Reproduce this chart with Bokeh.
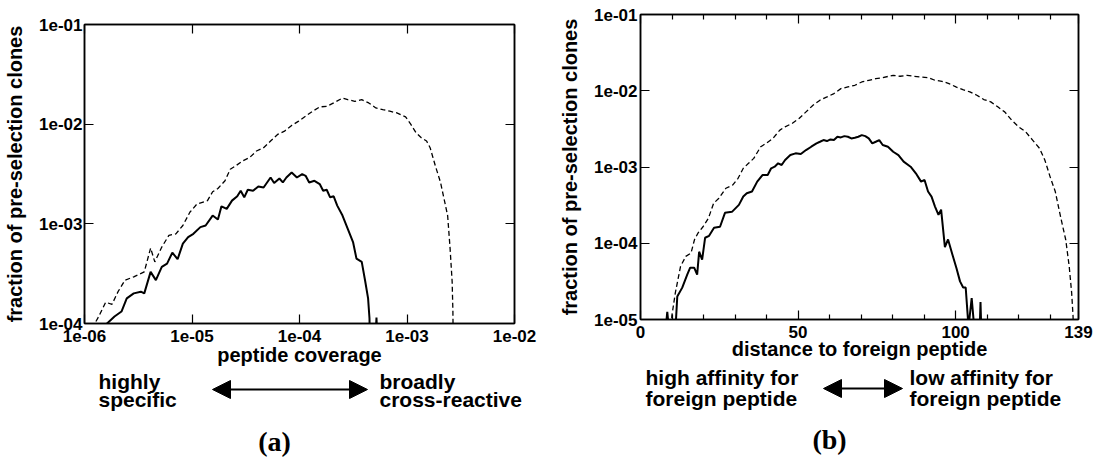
import numpy as np
from bokeh.plotting import figure
from bokeh.models import FixedTicker, LogAxis, LinearAxis, Label, Arrow, NormalHead, Range1d
from bokeh.layouts import row, column
from bokeh.embed import file_html
from bokeh.resources import INLINE

# ---------------- Panel (a): peptide coverage (log10 values)
a_dashed_log_cov = [-5.93, -5.868, -5.803, -5.744, -5.688, -5.623, -5.542, -5.444, -5.385, -5.346,
                    -5.281, -5.215, -5.150, -5.085, -5.020, -4.954, -4.856, -4.808, -4.759, -4.693,
                    -4.644, -4.595, -4.530, -4.465, -4.400, -4.334, -4.269, -4.204, -4.139, -4.073,
                    -4.008, -3.943, -3.878, -3.812, -3.747, -3.682, -3.600, -3.551, -3.486, -3.421,
                    -3.356, -3.290, -3.225, -3.160, -3.095, -3.013, -2.964, -2.916, -2.867, -2.818,
                    -2.785, -2.736, -2.688, -2.655, -2.622, -2.599, -2.580, -2.573, -2.570]
a_dashed_log_frac = [-4.05, -3.930, -3.787, -3.807, -3.681, -3.565, -3.532, -3.482, -3.243, -3.382,
                     -3.233, -3.116, -3.100, -3.017, -2.884, -2.801, -2.767, -2.678, -2.645, -2.568,
                     -2.452, -2.419, -2.369, -2.336, -2.269, -2.236, -2.169, -2.103, -2.070, -2.013,
                     -1.970, -1.920, -1.870, -1.827, -1.821, -1.787, -1.738, -1.754, -1.771, -1.754,
                     -1.787, -1.837, -1.854, -1.870, -1.887, -1.927, -2.003, -2.086, -2.136, -2.169,
                     -2.236, -2.419, -2.585, -2.751, -2.917, -3.249, -3.581, -3.880, -4.2]
a_solid_log_cov = [-5.84, -5.721, -5.656, -5.607, -5.542, -5.476, -5.444, -5.385, -5.336, -5.281,
                   -5.232, -5.183, -5.134, -5.085, -5.036, -4.987, -4.922, -4.873, -4.808, -4.759,
                   -4.726, -4.677, -4.628, -4.579, -4.547, -4.514, -4.481, -4.432, -4.383, -4.334,
                   -4.269, -4.236, -4.187, -4.155, -4.122, -4.073, -4.024, -3.975, -3.943, -3.910,
                   -3.861, -3.812, -3.780, -3.747, -3.715, -3.682, -3.649, -3.600, -3.551, -3.502,
                   -3.470, -3.421, -3.388, -3.362, -3.349, -3.345, -3.30, -3.284, -3.27]
a_solid_log_frac = [-4.05, -3.930, -3.880, -3.748, -3.698, -3.681, -3.698, -3.482, -3.565, -3.432,
                    -3.399, -3.289, -3.355, -3.199, -3.133, -3.100, -3.033, -3.017, -2.917, -2.957,
                    -2.824, -2.850, -2.767, -2.724, -2.668, -2.734, -2.658, -2.668, -2.625, -2.635,
                    -2.535, -2.591, -2.545, -2.585, -2.535, -2.485, -2.535, -2.502, -2.518, -2.585,
                    -2.568, -2.601, -2.668, -2.658, -2.734, -2.724, -2.817, -2.917, -3.050, -3.183,
                    -3.349, -3.382, -3.581, -3.748, -3.947, -4.2, -4.3, -3.94, -4.3]
a_xticks = [1e-6, 1e-5, 1e-4, 1e-3, 1e-2]
a_xtick_labels = ["1e-06", "1e-05", "1e-04", "1e-03", "1e-02"]
a_yticks = [1e-4, 1e-3, 1e-2, 1e-1]
a_ytick_labels = ["1e-04", "1e-03", "1e-02", "1e-01"]

# ---------------- Panel (b): distance to foreign peptide
b_dashed_dist = [9.6, 9.94, 11.05, 12.71, 14.37, 16.03, 17.13, 18.24, 19.90, 21.56, 23.22, 24.88,
                 27.09, 29.30, 30.96, 32.62, 34.28, 35.94, 38.15, 39.81, 42.02, 44.23, 45.89,
                 48.10, 50.32, 52.53, 54.74, 56.96, 59.17, 61.38, 63.59, 65.81, 68.02, 70.23,
                 72.44, 74.66, 76.87, 80.19, 82.40, 84.61, 86.83, 89.04, 91.25, 93.46, 95.67,
                 97.89, 100.10, 102.31, 104.52, 106.74, 108.95, 111.16, 113.37, 115.58, 117.80,
                 120.01, 122.22, 124.43, 126.65, 128.31, 129.97, 131.63, 133.29, 134.95, 136.05,
                 136.83, 137.27, 137.5]
b_dashed_log_frac = [-5.3, -4.956, -4.651, -4.303, -4.172, -4.129, -3.954, -3.867, -3.780, -3.671,
                     -3.475, -3.410, -3.279, -3.235, -3.148, -3.017, -2.952, -2.887, -2.734, -2.691,
                     -2.625, -2.516, -2.473, -2.429, -2.364, -2.277, -2.190, -2.124, -2.081, -2.037,
                     -1.972, -1.950, -1.928, -1.885, -1.863, -1.841, -1.828, -1.797, -1.810, -1.797,
                     -1.810, -1.819, -1.828, -1.863, -1.876, -1.906, -1.950, -1.985, -2.015, -2.059,
                     -2.115, -2.146, -2.211, -2.277, -2.386, -2.473, -2.538, -2.647, -2.756, -2.908,
                     -3.126, -3.322, -3.649, -3.954, -4.303, -4.651, -4.956, -5.3]
b_solid_dist = [7.8, 8.5, 9.2, 11.0, 11.67, 13.25, 14.83, 15.77, 17.03, 17.98, 18.61, 19.56, 20.50,
                21.77, 23.34, 25.24, 26.81, 29.02, 31.23, 32.62, 33.73, 35.38, 37.04, 38.70, 40.36,
                41.47, 42.58, 43.68, 44.79, 45.89, 47.55, 49.21, 50.87, 52.53, 54.19, 55.85, 56.96,
                58.06, 59.17, 60.28, 61.38, 62.49, 63.59, 64.70, 65.81, 66.91, 68.02, 69.12, 70.23,
                71.34, 72.44, 73.55, 74.66, 75.76, 76.87, 78.53, 80.19, 81.85, 83.51, 85.72, 87.38,
                89.04, 90.14, 91.25, 92.36, 93.46, 94.57, 95.4, 96.6, 97.6, 99.0, 100.3, 101.4,
                102.4, 103.2, 104.1, 105.1, 105.9, 107.6, 107.9, 108.2]
b_solid_log_frac = [-5.2, -4.9, -5.2, -5.2, -4.699, -4.582, -4.412, -4.320, -4.320, -4.412, -4.111,
                    -4.216, -3.928, -3.902, -3.797, -3.784, -3.601, -3.588, -3.497, -3.388, -3.344,
                    -3.322, -3.192, -3.105, -3.105, -3.017, -2.996, -2.952, -2.974, -2.908, -2.843,
                    -2.821, -2.830, -2.778, -2.734, -2.691, -2.669, -2.647, -2.660, -2.638, -2.647,
                    -2.603, -2.612, -2.595, -2.603, -2.625, -2.617, -2.603, -2.582, -2.595, -2.625,
                    -2.691, -2.669, -2.647, -2.712, -2.734, -2.800, -2.843, -2.930, -2.996, -3.083,
                    -3.192, -3.170, -3.322, -3.388, -3.519, -3.627, -3.56, -4.05, -3.95, -4.15,
                    -4.33, -4.50, -4.58, -4.58, -5.1, -4.72, -5.1, -5.2, -4.77, -5.2]
b_xticks = [0, 50, 100, 139]
b_xtick_labels = ["0", "50", "100", "139"]
b_xminor = [10, 20, 30, 40, 60, 70, 80, 90, 110, 120, 130]
b_yticks = [1e-5, 1e-4, 1e-3, 1e-2, 1e-1]
b_ytick_labels = ["1e-05", "1e-04", "1e-03", "1e-02", "1e-01"]

FONT = "Liberation Sans"
SERIF = "Liberation Serif"
TICK_SIZE = "17px"
LAB_SIZE = "20px"
NOTE_SIZE = "21px"


def style_axis(ax, ticks, labels=None, minor=None, tick_standoff=3, lab_standoff=5):
    ax.ticker = FixedTicker(ticks=ticks, minor_ticks=minor or [])
    ax.axis_line_color = "black"
    ax.axis_line_width = 1.5
    ax.major_tick_in = 9
    ax.major_tick_out = 0
    ax.major_tick_line_width = 1.2
    ax.minor_tick_in = 5 if minor else 0
    ax.minor_tick_out = 0
    ax.minor_tick_line_width = 1.2
    ax.major_label_standoff = tick_standoff
    if labels is None:
        ax.major_label_text_font_size = "1px"
        ax.major_label_text_alpha = 0
        ax.major_label_standoff = 0
    else:
        ax.major_label_overrides = {t: l for t, l in zip(ticks, labels)}
        ax.major_label_text_font = FONT
        ax.major_label_text_font_style = "bold"
        ax.major_label_text_font_size = TICK_SIZE
        ax.major_label_text_color = "black"
    ax.axis_label_text_font = FONT
    ax.axis_label_text_font_style = "bold"
    ax.axis_label_text_font_size = LAB_SIZE
    ax.axis_label_text_color = "black"
    ax.axis_label_standoff = lab_standoff


def base_figure(width, height, xr, yr, xtype, borders):
    l, r, t, b = borders
    p = figure(width=width, height=height, x_range=xr, y_range=yr,
               x_axis_type=xtype, y_axis_type="log",
               output_backend="svg", toolbar_location=None,
               min_border_left=l, min_border_right=r, min_border_top=t, min_border_bottom=b)
    p.grid.visible = False
    p.outline_line_color = "black"
    p.outline_line_width = 1.5
    p.background_fill_color = "white"
    p.border_fill_color = "white"
    return p


def note_figure(width, height):
    # blank strip below a panel; its frame spans the whole canvas, 1 unit = 1 px, y downward
    q = figure(width=width, height=height, x_range=Range1d(0, width), y_range=Range1d(height, 0),
               x_axis_location=None, y_axis_location=None,
               output_backend="svg", toolbar_location=None,
               min_border_left=0, min_border_right=0, min_border_top=0, min_border_bottom=0)
    q.grid.visible = False
    q.outline_line_color = None
    q.background_fill_color = "white"
    q.border_fill_color = "white"
    return q


def add_text(q, txt, x, y, size=NOTE_SIZE, font=FONT, align="left"):
    q.add_layout(Label(x=x, y=y, text=txt, text_font=font, text_font_size=size,
                       text_font_style="bold", text_align=align,
                       text_baseline="alphabetic", text_color="black"))


def add_arrow(q, x0, x1, y):
    q.add_layout(Arrow(x_start=x0, y_start=y, x_end=x1, y_end=y,
                       line_width=2, line_color="black",
                       start=NormalHead(size=18, fill_color="black", line_color="black"),
                       end=NormalHead(size=18, fill_color="black", line_color="black")))


# ---------------- figure (a)
pa = base_figure(547, 368, (1e-6, 1e-2), (1e-4, 1e-1), "log", (84, 33, 24, 43))
pa.line(10 ** np.array(a_dashed_log_cov), 10 ** np.array(a_dashed_log_frac),
        line_color="black", line_width=1.3, line_dash="5 3")
pa.line(10 ** np.array(a_solid_log_cov), 10 ** np.array(a_solid_log_frac),
        line_color="black", line_width=2)
style_axis(pa.xaxis[0], a_xticks, a_xtick_labels, tick_standoff=6, lab_standoff=-1)
pa.xaxis[0].axis_label = "peptide coverage"
style_axis(pa.yaxis[0], a_yticks, a_ytick_labels, tick_standoff=2, lab_standoff=10)
pa.yaxis[0].axis_label = "fraction of pre-selection clones"
ax_top = LogAxis()
style_axis(ax_top, a_xticks)
pa.add_layout(ax_top, "above")
ax_right = LogAxis()
style_axis(ax_right, a_yticks)
pa.add_layout(ax_right, "right")

na = note_figure(547, 89)
add_text(na, "highly", 98, 13)
add_text(na, "specific", 98, 31)
add_text(na, "broadly", 379, 13)
add_text(na, "cross-reactive", 379, 31)
add_arrow(na, 212, 367, 21)
add_text(na, "(a)", 274, 73, size="28px", font=SERIF, align="center")

# ---------------- figure (b)
pb = base_figure(548, 362, (0, 139), (1e-5, 1e-1), "linear", (93, 17, 14, 42))
pb.line(b_dashed_dist, 10 ** np.array(b_dashed_log_frac),
        line_color="black", line_width=1.3, line_dash="5 3")
pb.line(b_solid_dist, 10 ** np.array(b_solid_log_frac),
        line_color="black", line_width=2)
style_axis(pb.xaxis[0], b_xticks, b_xtick_labels, minor=b_xminor, tick_standoff=6, lab_standoff=-3)
pb.xaxis[0].axis_label = "distance to foreign peptide"
style_axis(pb.yaxis[0], b_yticks, b_ytick_labels, tick_standoff=3, lab_standoff=10)
pb.yaxis[0].axis_label = "fraction of pre-selection clones"
bx_top = LinearAxis()
style_axis(bx_top, b_xticks, minor=b_xminor)
pb.add_layout(bx_top, "above")
by_right = LogAxis()
style_axis(by_right, b_yticks)
pb.add_layout(by_right, "right")

nb = note_figure(548, 95)
add_text(nb, "high affinity for", 98, 15)
add_text(nb, "foreign peptide", 98, 36)
add_text(nb, "low affinity for", 362, 15)
add_text(nb, "foreign peptide", 362, 36)
add_arrow(nb, 276, 355, 26)
add_text(nb, "(b)", 282, 77, size="28px", font=SERIF, align="center")

layout = row(column(pa, row(na)), column(pb, row(nb)))
open("out.html", "w").write(file_html(layout, INLINE))
